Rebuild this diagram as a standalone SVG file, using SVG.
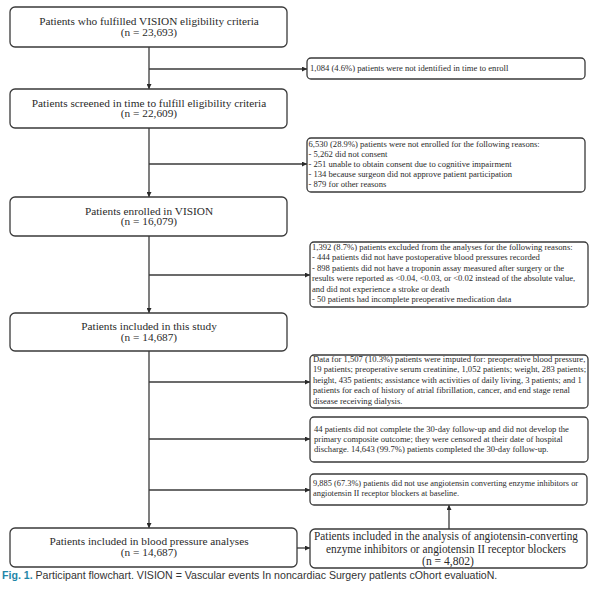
<svg xmlns="http://www.w3.org/2000/svg" width="600" height="592" viewBox="0 0 600 592">
<style>
.box{fill:#fff;stroke:#3a3a3a;stroke-width:1.3}
.main{font-family:"Liberation Serif","Times New Roman",serif;font-size:11.3px;fill:#2a2a2a;text-anchor:middle}
.big{font-family:"Liberation Serif","Times New Roman",serif;font-size:11.6px;fill:#2a2a2a;text-anchor:middle}
.small{font-family:"Liberation Serif","Times New Roman",serif;font-size:8.6px;fill:#2a2a2a}
.conn{stroke:#3a3a3a;stroke-width:1.3;fill:none}
.cap{font-family:"Liberation Sans",Arial,sans-serif;font-size:10.6px;fill:#333}
</style>
<defs>
<marker id="ah" viewBox="0 0 10 10" refX="10" refY="5" markerWidth="5" markerHeight="5" orient="auto" markerUnits="userSpaceOnUse">
<path d="M0,0 L10,5 L0,10 z" fill="#2a2a2a"/>
</marker>
</defs>
<rect width="600" height="592" fill="#fff"/>

<g id="connectors">
<path class="conn" d="M149,47 V89" marker-end="url(#ah)"/>
<path class="conn" d="M149,69 H307" marker-end="url(#ah)"/>
<path class="conn" d="M149,128 V197" marker-end="url(#ah)"/>
<path class="conn" d="M149,164 H307" marker-end="url(#ah)"/>
<path class="conn" d="M149,236 V313" marker-end="url(#ah)"/>
<path class="conn" d="M149,275 H310" marker-end="url(#ah)"/>
<path class="conn" d="M149,351 V528" marker-end="url(#ah)"/>
<path class="conn" d="M149,382 H310" marker-end="url(#ah)"/>
<path class="conn" d="M149,439 H310" marker-end="url(#ah)"/>
<path class="conn" d="M149,490 H310" marker-end="url(#ah)"/>
<path class="conn" d="M297,548 H310" marker-end="url(#ah)"/>
<path class="conn" d="M449,529 V505" marker-end="url(#ah)"/>
</g>

<g id="n1">
<rect class="box" x="10" y="7" width="277" height="40" rx="5"/>
<text class="main" x="149" y="25">Patients who fulfilled VISION eligibility criteria</text>
<text class="main" x="149" y="35.5">(n = 23,693)</text>
</g>
<g id="n2">
<rect class="box" x="10" y="89" width="277" height="39" rx="5"/>
<text class="main" x="149" y="106.5">Patients screened in time to fulfill eligibility criteria</text>
<text class="main" x="149" y="117">(n = 22,609)</text>
</g>
<g id="n3">
<rect class="box" x="10" y="197" width="277" height="39" rx="5"/>
<text class="main" x="149" y="214.5">Patients enrolled in VISION</text>
<text class="main" x="149" y="225">(n = 16,079)</text>
</g>
<g id="n4">
<rect class="box" x="10" y="313" width="277" height="38" rx="5"/>
<text class="main" x="149" y="330">Patients included in this study</text>
<text class="main" x="149" y="340.5">(n = 14,687)</text>
</g>
<g id="n5">
<rect class="box" x="10" y="528" width="287" height="39" rx="5"/>
<text class="main" x="149" y="545">Patients included in blood pressure analyses</text>
<text class="main" x="149" y="555.5">(n = 14,687)</text>
</g>

<g id="eA">
<rect class="box" x="307" y="58" width="278" height="21" rx="4"/>
<text class="small" x="310" y="71">1,084 (4.6%) patients were not identified in time to enroll</text>
</g>
<g id="eB">
<rect class="box" x="307" y="138" width="278" height="54" rx="4"/>
<text class="small" x="308.5" y="147">6,530 (28.9%) patients were not enrolled for the following reasons:</text>
<text class="small" x="308.5" y="157">- 5,262 did not consent</text>
<text class="small" x="308.5" y="167">- 251 unable to obtain consent due to cognitive impairment</text>
<text class="small" x="308.5" y="177">- 134 because surgeon did not approve patient participation</text>
<text class="small" x="308.5" y="187">- 879 for other reasons</text>
</g>
<g id="eC">
<rect class="box" x="310" y="242" width="278" height="65" rx="4"/>
<text class="small" x="312" y="250">1,392 (8.7%) patients excluded from the analyses for the following reasons:</text>
<text class="small" x="312" y="260.4">- 444 patients did not have postoperative blood pressures recorded</text>
<text class="small" x="312" y="270.8">- 898 patients did not have a troponin assay measured after surgery or the</text>
<text class="small" x="312" y="281.2">results were reported as &lt;0.04, &lt;0.03, or &lt;0.02 instead of the absolute value,</text>
<text class="small" x="312" y="291.6">and did not experience a stroke or death</text>
<text class="small" x="312" y="302">- 50 patients had incomplete preoperative medication data</text>
</g>
<g id="eD">
<rect class="box" x="310" y="355" width="278" height="53" rx="4"/>
<text class="small" x="313" y="361.5">Data for 1,507 (10.3%) patients were imputed for: preoperative blood pressure,</text>
<text class="small" x="313" y="372">19 patients; preoperative serum creatinine, 1,052 patients; weight, 283 patients;</text>
<text class="small" x="313" y="382.5">height, 435 patients; assistance with activities of daily living, 3 patients; and 1</text>
<text class="small" x="313" y="393">patients for each of history of atrial fibrillation, cancer, and end stage renal</text>
<text class="small" x="313" y="403.5">disease receiving dialysis.</text>
</g>
<g id="eE">
<rect class="box" x="310" y="417" width="278" height="45" rx="4"/>
<text class="small" x="314" y="432">44 patients did not complete the 30-day follow-up and did not develop the</text>
<text class="small" x="314" y="442">primary composite outcome; they were censored at their date of hospital</text>
<text class="small" x="314" y="452">discharge. 14,643 (99.7%) patients completed the 30-day follow-up.</text>
</g>
<g id="eF">
<rect class="box" x="310" y="474" width="277" height="31" rx="4"/>
<text class="small" x="313" y="486" style="font-size:8.4px">9,885 (67.3%) patients did not use angiotensin converting enzyme inhibitors or</text>
<text class="small" x="313" y="496" style="font-size:8.4px">angiotensin II receptor blockers at baseline.</text>
</g>
<g id="nG">
<rect class="box" x="310" y="529" width="277" height="39" rx="5"/>
<text class="big" x="446" y="540" textLength="264" lengthAdjust="spacingAndGlyphs">Patients included in the analysis of angiotensin-converting</text>
<text class="big" x="446" y="552.5" textLength="240" lengthAdjust="spacingAndGlyphs">enzyme inhibitors or angiotensin II receptor blockers</text>
<text class="big" x="448" y="564.5">(n = 4,802)</text>
</g>

<text class="cap" x="2" y="579"><tspan font-weight="bold" fill="#1f86a8">Fig. 1.</tspan> Participant flowchart. VISION = Vascular events In noncardiac Surgery patIents cOhort evaluatioN.</text>
</svg>
